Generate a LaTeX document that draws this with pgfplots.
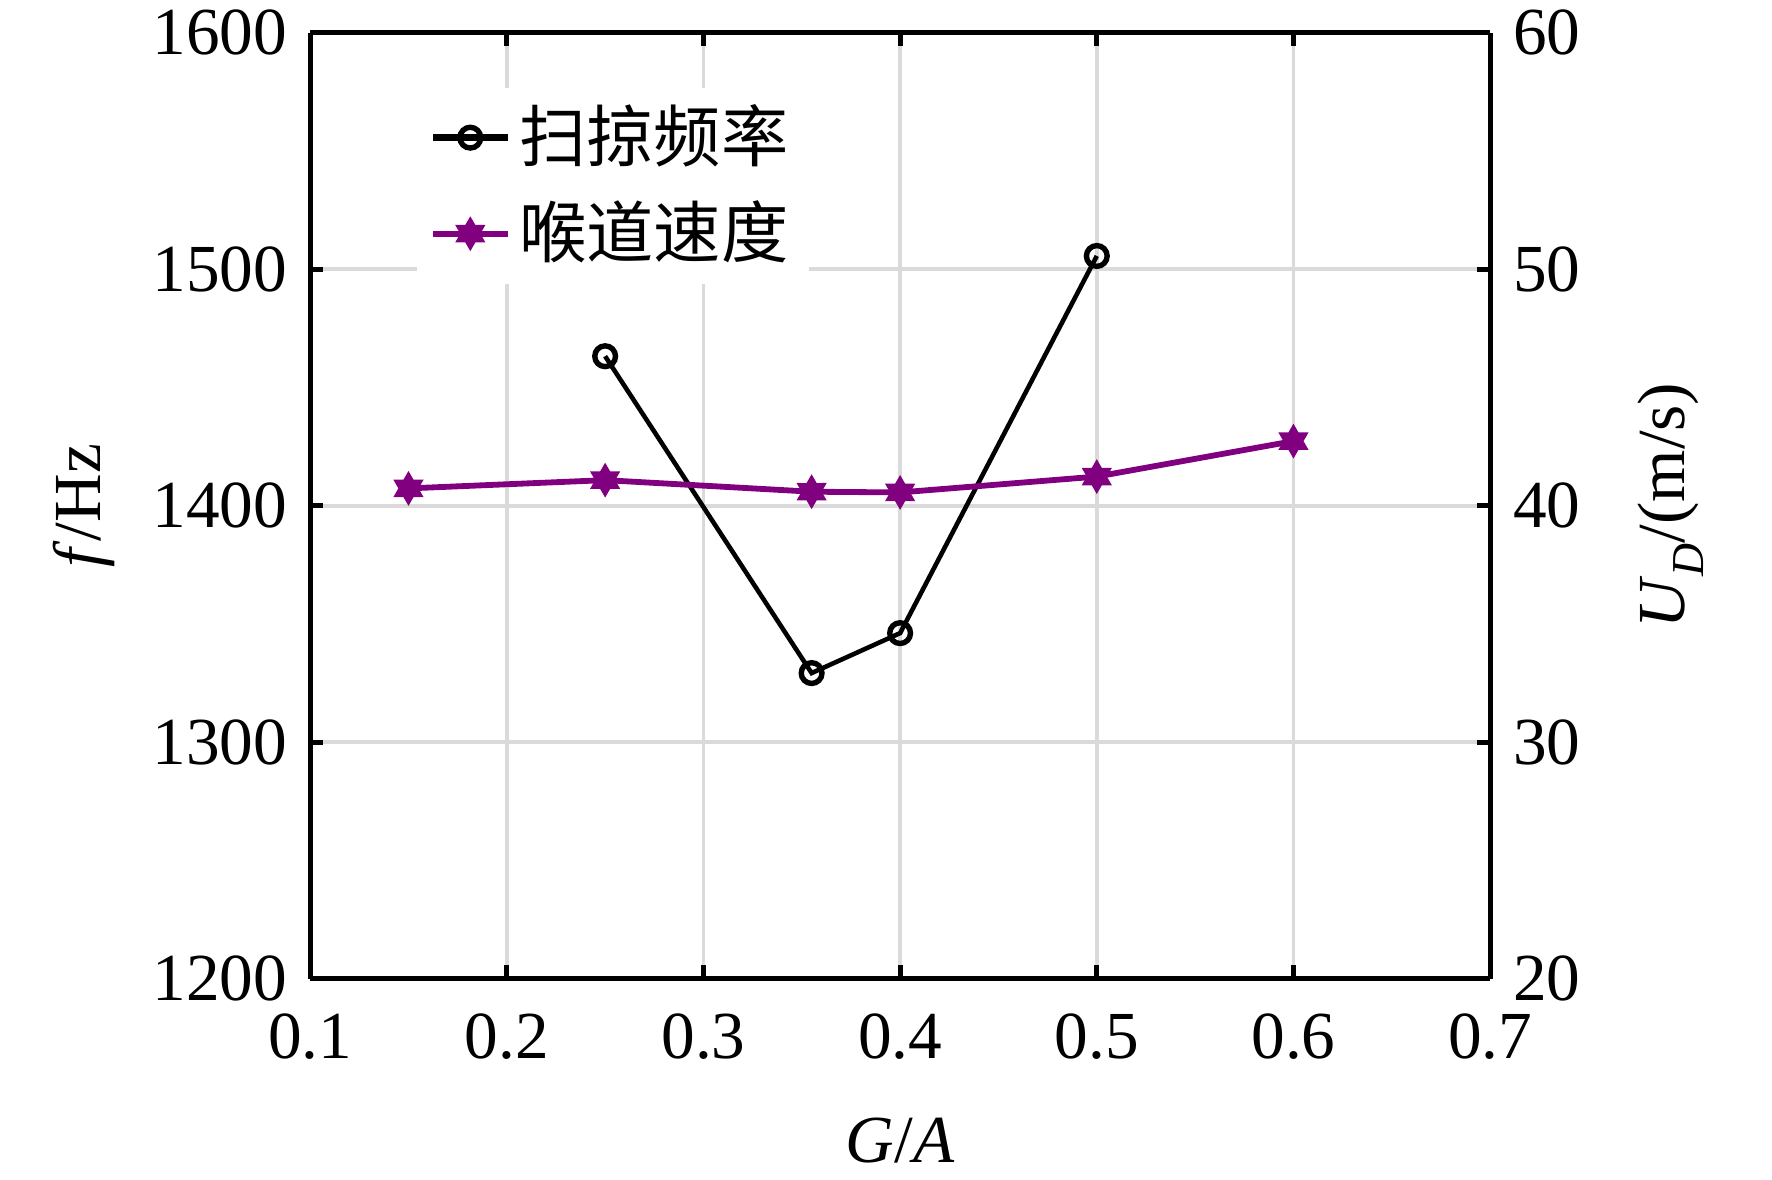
\documentclass[border=0pt]{standalone}
\usepackage{fontspec}
\setmainfont{Liberation Serif}
\newfontfamily\cjk{Noto Sans CJK SC}
\usepackage{pgfplots}
\pgfplotsset{compat=1.18}
\definecolor{myPurple}{RGB}{128,0,128}
\definecolor{gridgray}{RGB}{218,218,218}
\pgfdeclareplotmark{hexagram}{%
  \pgfpathmoveto{\pgfpointpolar{90}{\pgfplotmarksize}}%
  \pgfpathlineto{\pgfpointpolar{120}{0.577\pgfplotmarksize}}%
  \pgfpathlineto{\pgfpointpolar{150}{\pgfplotmarksize}}%
  \pgfpathlineto{\pgfpointpolar{180}{0.577\pgfplotmarksize}}%
  \pgfpathlineto{\pgfpointpolar{210}{\pgfplotmarksize}}%
  \pgfpathlineto{\pgfpointpolar{240}{0.577\pgfplotmarksize}}%
  \pgfpathlineto{\pgfpointpolar{270}{\pgfplotmarksize}}%
  \pgfpathlineto{\pgfpointpolar{300}{0.577\pgfplotmarksize}}%
  \pgfpathlineto{\pgfpointpolar{330}{\pgfplotmarksize}}%
  \pgfpathlineto{\pgfpointpolar{0}{0.577\pgfplotmarksize}}%
  \pgfpathlineto{\pgfpointpolar{30}{\pgfplotmarksize}}%
  \pgfpathlineto{\pgfpointpolar{60}{0.577\pgfplotmarksize}}%
  \pgfpathclose
  \pgfusepathqfillstroke
}
\pgfplotsset{
  base/.style={
    width=284.2pt, height=227.8pt, scale only axis,
    xmin=0.1, xmax=0.7,
    axis line style={line width=1.2pt},
    tick style={line width=1.2pt, black, major tick length=3.2pt},
    tick align=inside,
    /pgf/number format/assume math mode=true,
    /pgf/number format/1000 sep={},
    tick label style={font=\fontsize{16.2}{19}\selectfont},
    label style={font=\fontsize{16.2}{19}\selectfont},
  }
}
\begin{document}
\fontsize{16.2}{19}\selectfont
\begin{tikzpicture}
\begin{axis}[base, name=ax,
  ymin=1200, ymax=1600,
  xtick={0.1,0.2,...,0.7},
  ytick={1200,1300,...,1600},
  xticklabel style={/pgf/number format/fixed, /pgf/number format/precision=1, /pgf/number format/fixed zerofill, yshift=-3pt},
  axis y line*=left,
  axis x line*=box,
  grid=major,
  major grid style={gridgray, line width=0.9pt},
  xlabel={\textit{G}/\textit{A}},
  ylabel={\textit{f}/Hz},
  ylabel shift=-2pt,
  xlabel shift=3pt,
]
\addplot[black, line width=1.1pt, mark=o, mark size=2.5pt, mark options={line width=1.3pt}]
  coordinates {(0.25,1463.2) (0.355,1329.2) (0.4,1346.1) (0.5,1505.6)};
\end{axis}
\begin{axis}[base,
  ymin=20, ymax=60,
  ytick={20,30,...,60},
  axis y line*=right,
  axis x line=none,
  ylabel={\textit{U}\raisebox{-0.28em}{\fontsize{11}{12}\selectfont\textit{D}}/(m/s)},
  ylabel shift=2.7pt,
  legend style={draw=none, fill=white, at={(rel axis cs:0.09,0.943)}, anchor=north west,
    font=\fontsize{16.2}{19}\selectfont\cjk, row sep=3pt, inner xsep=3pt, inner ysep=2pt},
  legend cell align=left,
  legend image code/.code={%
    \draw[#1, mark repeat=2, mark phase=2] plot coordinates {(0pt,0pt) (9pt,0pt) (18pt,0pt)};},
]
\addlegendimage{black, line width=1.6pt, mark=o, mark size=2.5pt, mark options={line width=1.3pt}}
\addlegendentry{扫掠频率}
\addplot[myPurple, line width=1.4pt, mark=hexagram, mark size=3.9pt, mark options={fill=myPurple, line width=0.3pt}]
  coordinates {(0.15,40.73) (0.25,41.08) (0.355,40.59) (0.4,40.56) (0.5,41.23) (0.6,42.73)};
\addlegendentry{喉道速度}
\end{axis}
\pgfresetboundingbox
\path[use as bounding box] ([xshift=-74.7pt,yshift=-48.4pt]ax.south west) rectangle ([xshift=67.9pt,yshift=7.9pt]ax.north east);
\end{tikzpicture}
\end{document}
